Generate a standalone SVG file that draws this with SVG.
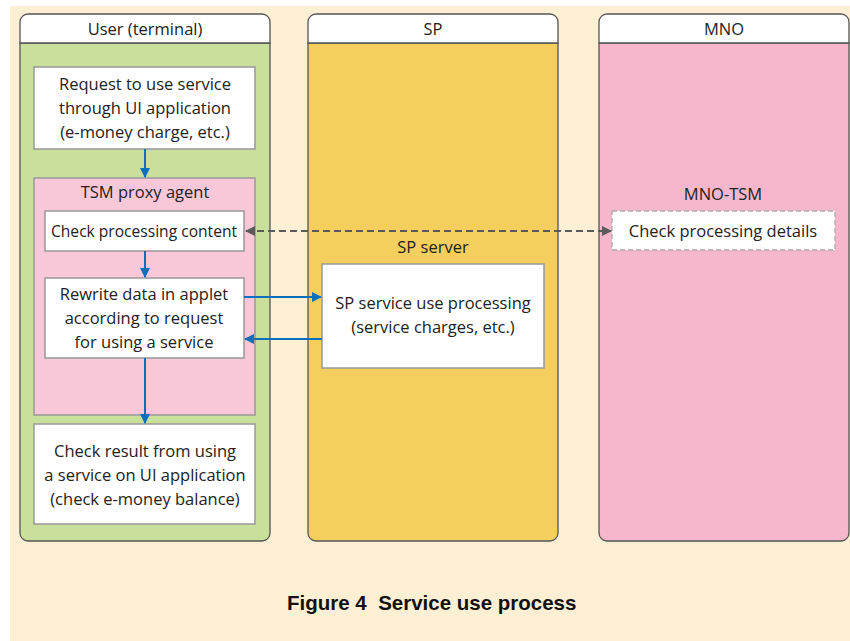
<svg xmlns="http://www.w3.org/2000/svg" width="850" height="641" viewBox="0 0 850 641">
<defs>
<style>
.lane{stroke:#555;stroke-width:1.3}
.hdr{fill:#fff}
.box{fill:#fff;stroke:#999;stroke-width:1.5}
.t{font-family:"Open Sans","Noto Sans",sans-serif;font-size:16.5px;fill:#222;text-anchor:middle}
.blue{stroke:#0a70bd;stroke-width:2;fill:none}
.dash{stroke:#5a5a5a;stroke-width:2;fill:none;stroke-dasharray:7 4}
</style>
<marker id="ab" viewBox="0 0 10 10" refX="9" refY="5" markerWidth="5" markerHeight="5" orient="auto-start-reverse"><path d="M0 0L10 5L0 10z" fill="#0a70bd"/></marker>
<marker id="ag" viewBox="0 0 10 10" refX="9" refY="5" markerWidth="5" markerHeight="5" orient="auto-start-reverse"><path d="M0 0L10 5L0 10z" fill="#5a5a5a"/></marker>
</defs>
<rect x="10" y="6" width="840" height="635" fill="#fdefd4"/>

<g id="lane-user">
<path class="lane" fill="#c9df9c" d="M20 43H270V533a8 8 0 0 1-8 8H28a8 8 0 0 1-8-8Z"/>
<path class="lane hdr" d="M20 43V22a8 8 0 0 1 8-8H262a8 8 0 0 1 8 8V43Z"/>
<text class="t" x="145" y="35">User (terminal)</text>
</g>
<g id="lane-sp">
<path class="lane" fill="#f4cf5e" d="M308 43H558V533a8 8 0 0 1-8 8H316a8 8 0 0 1-8-8Z"/>
<path class="lane hdr" d="M308 43V22a8 8 0 0 1 8-8H550a8 8 0 0 1 8 8V43Z"/>
<text class="t" x="433" y="35">SP</text>
</g>
<g id="lane-mno">
<path class="lane" fill="#f6b7cc" d="M599 43H849V533a8 8 0 0 1-8 8H607a8 8 0 0 1-8-8Z"/>
<path class="lane hdr" d="M599 43V22a8 8 0 0 1 8-8H841a8 8 0 0 1 8 8V43Z"/>
<text class="t" x="724" y="35">MNO</text>
</g>

<g id="request">
<rect class="box" x="34" y="67" width="221" height="82"/>
<text class="t" x="145" y="90">Request to use service</text>
<text class="t" x="145" y="114">through UI application</text>
<text class="t" x="145" y="138">(e-money charge, etc.)</text>
</g>
<g id="tsm-proxy">
<rect x="34" y="178" width="221" height="237" fill="#f8c7d8" stroke="#999" stroke-width="1.5"/>
<text class="t" x="145" y="198">TSM proxy agent</text>
</g>
<g id="check-content">
<rect class="box" x="45" y="211" width="199" height="40"/>
<text class="t" x="144" y="237" textLength="186" lengthAdjust="spacingAndGlyphs">Check processing content</text>
</g>
<g id="rewrite">
<rect class="box" x="45" y="278" width="199" height="80"/>
<text class="t" x="144" y="300">Rewrite data in applet</text>
<text class="t" x="144" y="324">according to request</text>
<text class="t" x="144" y="348">for using a service</text>
</g>
<g id="check-result">
<rect class="box" x="34" y="424" width="221" height="100"/>
<text class="t" x="145" y="457">Check result from using</text>
<text class="t" x="145" y="481">a service on UI application</text>
<text class="t" x="145" y="505">(check e-money balance)</text>
</g>
<g id="sp-server">
<text class="t" x="433" y="253">SP server</text>
<rect class="box" x="322" y="264" width="222" height="104"/>
<text class="t" x="433" y="309">SP service use processing</text>
<text class="t" x="433" y="333">(service charges, etc.)</text>
</g>
<g id="mno-tsm">
<text class="t" x="723" y="200">MNO-TSM</text>
<rect x="612" y="211" width="223" height="39" fill="#fff" stroke="#aaa" stroke-width="1.3" stroke-dasharray="5 3"/>
<text class="t" x="723" y="237">Check processing details</text>
</g>

<g id="connectors">
<line class="blue" x1="145" y1="149" x2="145" y2="177" marker-end="url(#ab)"/>
<line class="blue" x1="145" y1="251" x2="145" y2="277" marker-end="url(#ab)"/>
<line class="blue" x1="145" y1="358" x2="145" y2="423" marker-end="url(#ab)"/>
<line class="blue" x1="244" y1="297" x2="321" y2="297" marker-end="url(#ab)"/>
<line class="blue" x1="322" y1="339" x2="245" y2="339" marker-end="url(#ab)"/>
<line class="dash" x1="246" y1="231" x2="611" y2="231" marker-start="url(#ag)" marker-end="url(#ag)"/>
</g>

<text x="287" y="610" font-family="'Liberation Sans',Arial,sans-serif" font-weight="bold" font-size="20.5" fill="#111" xml:space="preserve">Figure 4  Service use process</text>
</svg>
